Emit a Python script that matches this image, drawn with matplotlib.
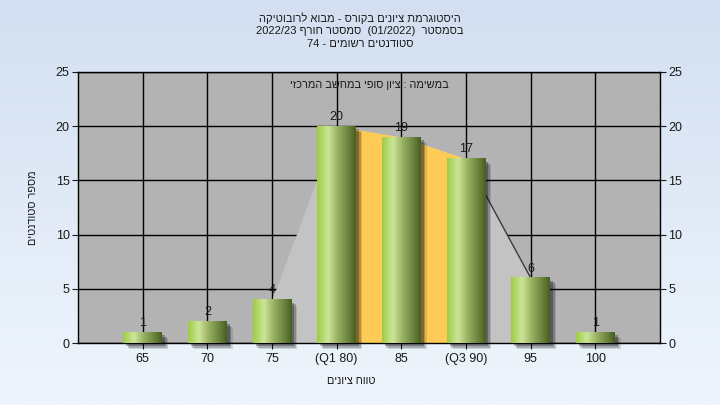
import re
import numpy as np
import matplotlib
matplotlib.use("Agg")
import matplotlib.pyplot as plt
from matplotlib.colors import LinearSegmentedColormap
from matplotlib.patches import Rectangle

# data
labels = ["65", "70", "75", "(Q1 80)", "85", "(Q3 90)", "95", "100"]
counts = [1, 2, 4, 20, 19, 17, 6, 1]
q1_idx, q3_idx = 3, 5
spread_idx = [2, 3, 4, 5, 6]
yticks = [0, 5, 10, 15, 20, 25]

title_lines = [
    "היסטוגרמת ציונים בקורס - מבוא לרובוטיקה",
    "בסמסטר  (01/2022)  סמסטר חורף 2022/23",
    "סטודנטים רשומים - 74",
]
subtitle = "במשימה : ציון סופי במחשב המרכזי"
xlabel = "טווח ציונים"
ylabel = "מספר סטודנטים"


def rtl(s):
    # simple visual reordering for a right-to-left line
    s = s[::-1]
    s = re.sub(r"[A-Za-z0-9/.]+", lambda m: m.group(0)[::-1], s)
    return s.translate(str.maketrans("()", ")("))


plt.rcParams['font.family'] = ['Liberation Sans', 'DejaVu Sans']

W, H = 720, 405
fig = plt.figure(figsize=(7.2, 4.05), dpi=100)

# background gradient
bg = fig.add_axes([0, 0, 1, 1], zorder=-1)
bg_cmap = LinearSegmentedColormap.from_list("bg", ["#d3dff1", "#eef5fc"])
bg.imshow(np.linspace(0, 1, 200).reshape(-1, 1), cmap=bg_cmap, aspect="auto", extent=[0, 1, 0, 1])
bg.axis("off")

ax = fig.add_axes([78 / W, 62 / H, 582 / W, 271 / H])
ax.set_facecolor("#b3b3b3")
ax.set_axisbelow(True)
ax.grid(True, color="black", lw=1)

x = np.arange(len(counts))

# spread area and inter-quartile area
ax.fill_between(spread_idx, [counts[i] for i in spread_idx], color="#c3c3c3", lw=0, zorder=1.2)
iq = list(range(q1_idx, q3_idx + 1))
ax.fill_between(iq, [counts[i] for i in iq], color="#ffcb57", lw=0, zorder=1.3)
ax.plot([q3_idx, spread_idx[-1]], [counts[q3_idx], counts[spread_idx[-1]]], color="#3c3c3c", lw=1, zorder=1.4)

# bars with gradient and shadow
bar_cmap = LinearSegmentedColormap.from_list(
    "bar", [(0, "#9fcd45"), (0.28, "#cce598"), (0.55, "#97ae5f"), (0.8, "#6b8540"), (1, "#48601f")])
grad = np.linspace(0, 1, 100).reshape(1, -1)
bw = 0.6
px_x = 9.0 / 582
px_y = 25.0 / 271
for i, c in zip(x, counts):
    for k, a in [(6, 0.12), (4.5, 0.2), (3, 0.28)]:
        ax.add_patch(Rectangle((i - bw / 2 + k * px_x, -k * px_y), bw, c,
                               color="black", alpha=a, lw=0, zorder=2, clip_on=False))
    ax.imshow(grad, cmap=bar_cmap, aspect="auto", extent=[i - bw / 2, i + bw / 2, 0, c], zorder=3)
    ax.text(i, c + 0.3, str(c), ha="center", va="bottom", fontsize=9, color="#1a1a1a", zorder=5)

ax.set_xlim(-1, 8)
ax.set_ylim(0, 25)
ax.set_xticks(x)
ax.set_xticklabels(labels)
ax.set_yticks(yticks)
ax.tick_params(axis="x", direction="out", length=4, pad=3, labelsize=9, colors="#1a1a1a")
ax.tick_params(axis="y", direction="out", length=4, pad=2, labelsize=9, colors="#1a1a1a",
               left=True, right=True, labelleft=True, labelright=True)
for sp in ax.spines.values():
    sp.set_color("black")
    sp.set_linewidth(1)

# titles and axis labels
for j, line in enumerate(title_lines):
    fig.text(0.5, 1 - (18 + 13 * j) / H, rtl(line), ha="center", va="center", fontsize=8, color="#1a1a1a")
fig.text(369 / W, 1 - 85 / H, rtl(subtitle), ha="center", va="center", fontsize=7.8, color="#1a1a1a")
fig.text(351 / W, 1 - 381 / H, rtl(xlabel), ha="center", va="center", fontsize=7.8, color="#1a1a1a")
fig.text(33 / W, 1 - 208 / H, rtl(ylabel), ha="center", va="center", fontsize=7.8, rotation=90, color="#1a1a1a")

fig.savefig("out.png", dpi=100)
